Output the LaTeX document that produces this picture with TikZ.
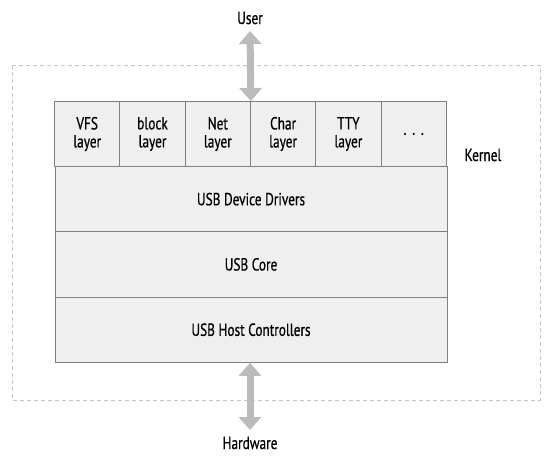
\documentclass[tikz,border=0pt]{standalone}
\usepackage{fontspec}
\setmainfont{PT Sans}[FakeStretch=0.76, FakeBold=0.6]
\usetikzlibrary{arrows.meta}

\definecolor{cellfill}{HTML}{EFEFEF}
\definecolor{celledge}{HTML}{7F7F7F}
\definecolor{arrowgray}{HTML}{BBBBBB}
\definecolor{kernelgray}{HTML}{C4C4C4}

\tikzset{
  layer/.style={draw=celledge, fill=cellfill, line width=0.9pt,
    minimum width=65.3pt, minimum height=65pt, inner sep=0pt,
    align=center, font=\fontsize{17.5}{18}\selectfont},
  row/.style={layer, minimum width=392pt, minimum height=65.3pt},
  label/.style={font=\fontsize{17.5}{18}\selectfont},
  io/.style={arrowgray, line width=7pt,
    {Triangle[width=22pt,length=13pt]}-{Triangle[width=22pt,length=13pt]}}
}

\begin{document}
\begin{tikzpicture}[x=1pt, y=-1pt]
    \useasboundingbox (0,0) rectangle (552,459);

    % kernel area
    \draw[kernelgray, line width=0.8pt, dash pattern=on 4pt off 3pt]
        (12,65) rectangle (540,400);
    \draw (483,155) node[label] (kernel) {Kernel};

    % top row of layers
    \draw ( 87.2,134) node[layer] (vfs)   {VFS\\layer};
    \draw (152.5,134) node[layer] (block) {block\\layer};
    \draw (217.8,134) node[layer] (net)   {Net\\layer};
    \draw (283.1,134) node[layer] (char)  {Char\\layer};
    \draw (348.4,134) node[layer] (tty)   {TTY\\layer};
    \draw (413.7,134) node[layer] (more)  {.\,\,.\,\,.};

    % lower layers
    \draw (251,199.1) node[row] (drivers) {USB Device Drivers};
    \draw (251,264.4) node[row] (core)    {USB Core};
    \draw (251,329.7) node[row] (host)    {USB Host Controllers};

    % outside world
    \draw (250,18)  node[label] (user) {User};
    \draw (250,443) node[label] (hw)   {Hardware};
    \coordinate (userend) at (250,31);
    \coordinate (hwend)   at (250,430);

    \draw[io] (userend) -- (net.north east);
    \draw[io] (host.south -| userend) -- (hwend);
\end{tikzpicture}
\end{document}
